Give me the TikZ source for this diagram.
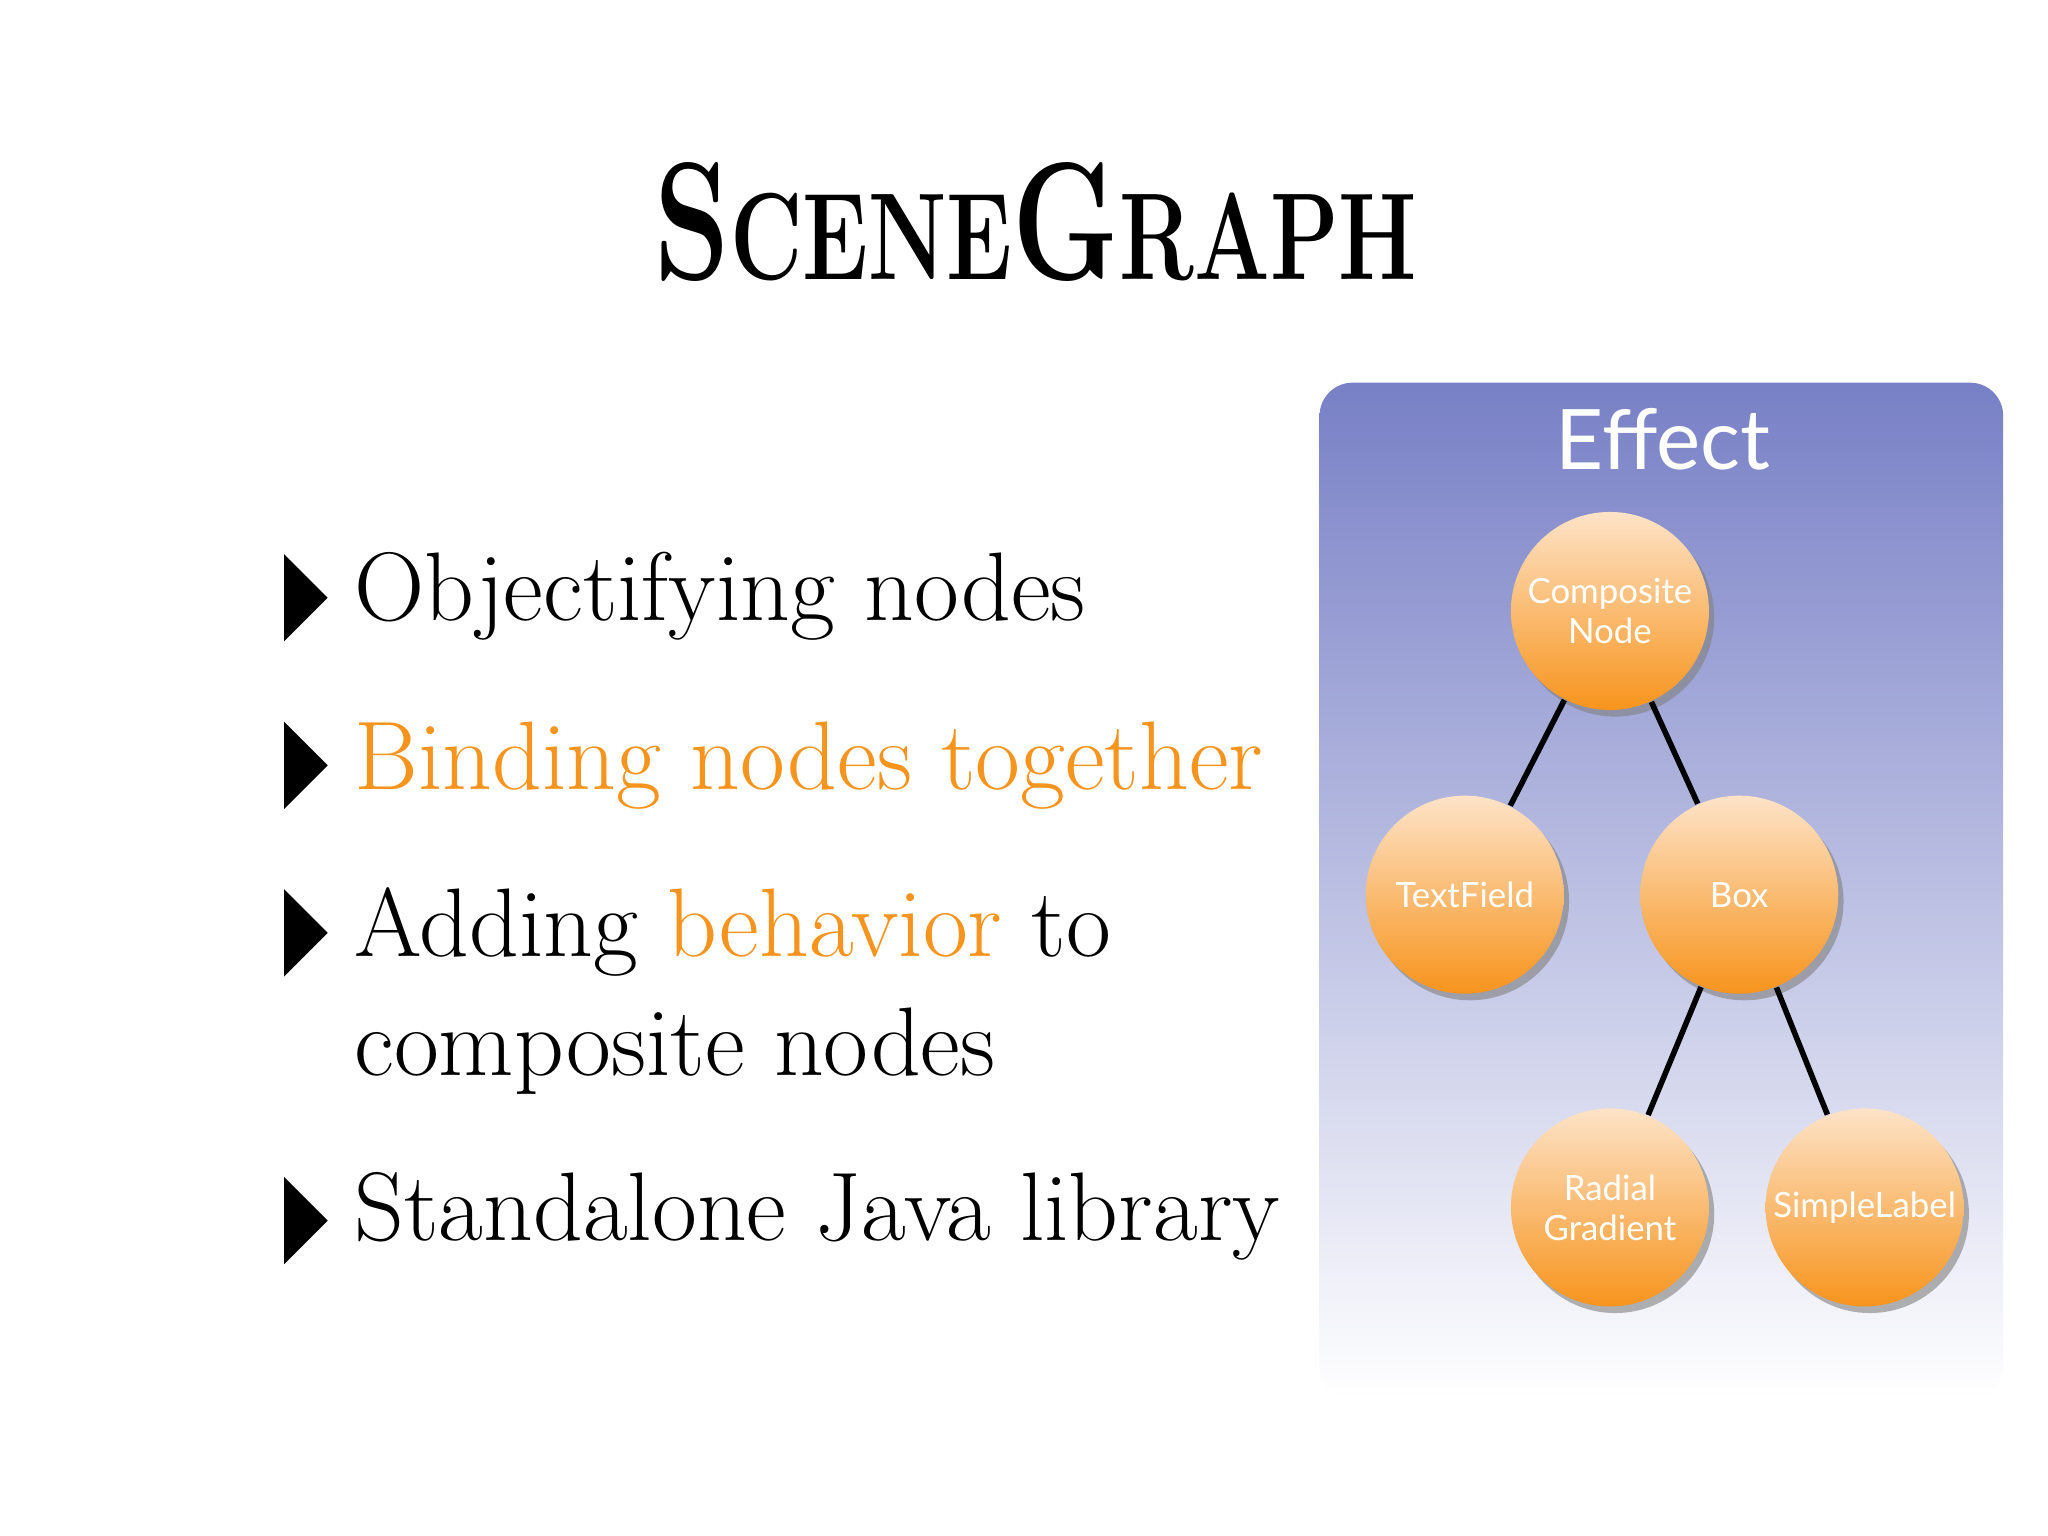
\documentclass[tikz,border=0pt]{standalone}
\usepackage{fontspec}
\newfontfamily\lato{Lato}
\usetikzlibrary{shadows,shapes.geometric}
\definecolor{orng}{HTML}{F7941D}
\definecolor{peach}{HTML}{FDE3C8}
\definecolor{panelTop}{HTML}{7880C6}
\tikzset{
  ball/.style={circle,minimum size=1.5cm,inner sep=0pt,top color=peach,bottom color=orng,
    drop shadow={shadow xshift=0.04cm,shadow yshift=-0.05cm,opacity=0.6},
    text=white,font=\lato\fontsize{7.5}{8.6}\selectfont,align=center},
  edge/.style={line width=1.2pt,black},
  bul/.style={isosceles triangle,isosceles triangle stretches,fill=black,minimum height=0.33cm,minimum width=0.66cm,inner sep=0pt},
  btext/.style={anchor=base west,font=\fontsize{21}{25}\selectfont,inner sep=0pt}
}
\begin{document}
\begin{tikzpicture}[x=0.01cm,y=-0.01cm]
\useasboundingbox[fill=white] (0,0) rectangle (1552,1164);
% title
\node[font=\bfseries,inner sep=0pt] (title) at (785,168)
 {\scalebox{0.62}[0.86]{\fontsize{42}{48}\selectfont S\fontsize{31}{36}\selectfont CENE\fontsize{42}{48}\selectfont G\fontsize{31}{36}\selectfont RAPH}};
% bullets
\node[bul] (b1) at (229,453) {};
\node[btext] (t1) at (268,470) {Objectifying nodes};
\node[bul] (b2) at (229,580) {};
\node[btext,text=orng] (t2) at (268,598) {Binding nodes together};
\node[bul] (b3) at (229,707) {};
\node[btext] (t3) at (268,725) {Adding \textcolor{orng}{behavior} to};
\node[btext] (t3b) at (268,815) {composite nodes};
\node[bul] (b4) at (229,925) {};
\node[btext] (t4) at (268,940) {Standalone Java library};
% panel
\shade[top color=panelTop,bottom color=white,rounded corners=0.25cm] (1000,290) rectangle (1518,1060);
\node[text=white,font=\lato\fontsize{18}{20}\selectfont] (eff) at (1260,333) {Effect};
\node[ball] (cn) at (1220,463) {Composite\\Node};
\node[ball] (tf) at (1110,678) {TextField};
\node[ball] (bx) at (1318,678) {Box};
\node[ball] (rg) at (1220,915) {Radial\\Gradient};
\node[ball] (sl) at (1413,915) {SimpleLabel};
\draw[edge] (cn) -- (tf);
\draw[edge] (cn) -- (bx);
\draw[edge] (bx) -- (rg);
\draw[edge] (bx) -- (sl);
\end{tikzpicture}
\end{document}
